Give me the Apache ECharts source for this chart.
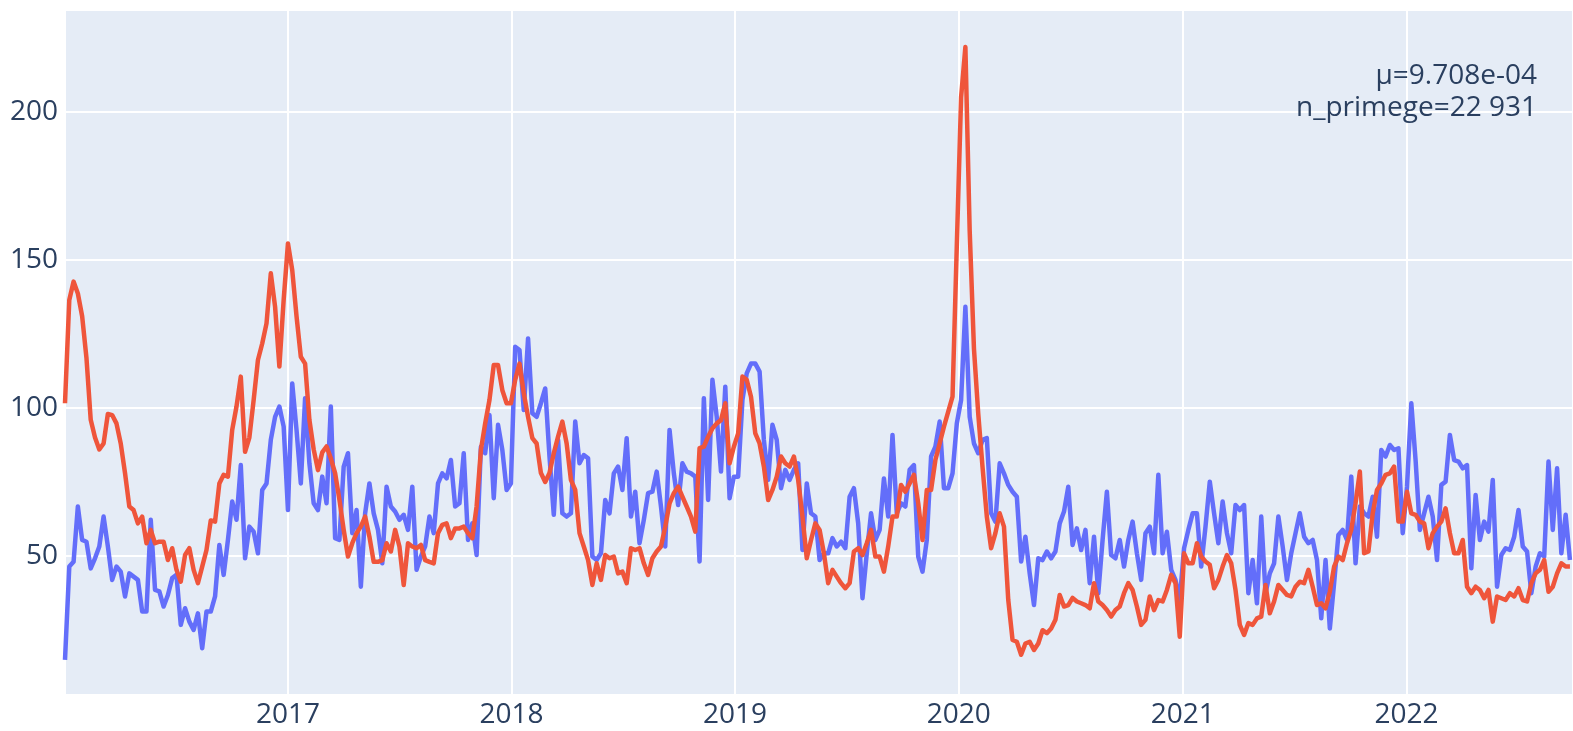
<!DOCTYPE html>
<html>
<head>
<meta charset="utf-8">
<script src="https://cdn.jsdelivr.net/npm/echarts@6/dist/echarts.min.js"></script>
<style>
    html, body { margin: 0; padding: 0; background: #fff; }
    #chart { width: 1573px; height: 731px; }
</style>
</head>
<body>
<div id="chart"></div>
<script>
// weekly series, first week starts on this sunday
const firstWeek = [2016, 0, 3];
const xRange = ['2016-01-03', '2022-09-30'];
const yRange = [3, 234.5];
const noteLines = ['μ=9.708e-04', 'n_primege=22 931'];

const blueValues = [
    14.9, 46.4, 48, 66.7, 55.4, 54.8, 45.8, 49.2, 53.2, 63.3,
    53.2, 41.9, 46.4, 44.7, 36.3, 44.1, 43, 41.9, 31.2, 31.2,
    62.2, 38.5, 38, 32.9, 36.8, 42.5, 43.6, 26.7, 32.3, 27.8,
    25, 30.6, 18.8, 31.2, 31.2, 36.3, 53.7, 43.6, 55.4, 68.4,
    62.2, 80.7, 49.2, 59.9, 58.2, 50.9, 72.3, 74.5, 89.2, 97,
    100.5, 93.7, 65.5, 108.3, 92.6, 74.5, 103.3, 81.3, 67.8, 65.5,
    76.8, 67.8, 100.5, 56, 55.4, 80.2, 84.7, 57.7, 65.5, 39.6,
    64.4, 74.5, 64.4, 58.8, 47.5, 73.4, 66.7, 65, 62.2, 63.9,
    58.8, 73.4, 45.3, 49.8, 53.2, 63.3, 57.7, 74.5, 77.9, 76.2,
    82.4, 66.7, 67.8, 84.7, 55.4, 61, 50.3, 86.9, 84.7, 97.6,
    69.5, 94.3, 85.8, 72.3, 74.5, 120.7, 119.6, 99.3, 123.5, 98.2,
    97, 101.6, 106.6, 83.6, 63.9, 89.2, 64.4, 63.3,
    64.4, 95.4, 81.3, 84.1, 83, 49.8, 48.6, 50.9, 68.9, 64.4,
    77.9, 80.2, 72.3, 89.8, 63.3, 71.7, 54.3, 62.2, 71.2, 71.7,
    78.5, 66.7, 53.2, 92.6, 77.9, 67.2, 81.3, 78.5, 77.9, 76.8,
    48.1, 103.3, 68.9, 109.5, 97, 78.5, 107.2, 69.5, 76.8, 76.8,
    102.7, 111.7, 115, 115, 112.3, 89.2, 75.7, 94.3, 89.2, 72.9,
    79.1, 75.7, 79.1, 81.3, 52, 74.5, 64.4, 63.3, 48.6,
    50.9, 50.9, 56, 53.2, 54.8, 52.6, 70, 72.9, 61, 35.7,
    50.9, 64.4, 55.4, 58.8, 76.2, 63.3, 90.9, 64.4, 67.8, 66.7,
    79.1, 80.7, 49.8, 44.7, 55.4, 83.6, 86.9, 95.4, 72.9, 72.9,
    77.9, 94.8, 102.7, 134.2, 97, 88, 84.7, 89.2, 89.8, 64.4,
    61.6, 81.3, 77.9, 74, 71.7, 70, 48.1, 56.5, 44.1, 33.4,
    49.2, 48.6, 51.5, 49.2, 51.5, 61, 65, 73.4,
    53.7, 59.3, 52, 58.8, 40.8, 56.5, 37.4, 55.4, 71.7, 50.3,
    49.2, 55.4, 46.4, 55.4, 61.6, 50.9, 41.9, 57.7, 59.9, 50.9,
    77.4, 50.9, 58.2, 45.3, 41.9, 35.1, 52.6, 58.8, 64.4, 64.4,
    46.4, 59.9, 75.1, 64.4, 54.3, 68.4, 57.7, 50.9, 67.2, 65.5,
    67.2, 37.4, 48.6, 34, 63.3, 37.4, 44.1, 47.5, 63.3, 53.2,
    41.9, 50.9, 57.7, 64.4, 56.5, 54.3, 55.4, 48.6,
    28.9, 48.6, 25.5, 40.8, 57.1, 58.8, 55.4, 76.8, 47.5, 66.7,
    64.4, 63.3, 70, 56.5, 85.8, 83.6, 87.5, 85.8, 86.4, 57.7,
    73.4, 101.6, 82.4, 58.8, 64.4, 70, 63.3, 48.6, 74, 75.1,
    90.9, 82.4, 81.9, 79.6, 80.7, 45.8, 70.6, 55.4, 61.6, 58.2,
    75.7, 39.6, 50.3, 52.6, 52, 56.5, 65.5, 53.2, 51.5, 37.4,
    46.4, 50.9, 49.8, 81.9, 58.8, 79.6, 50.9, 63.9, 48.6
];

const redValues = [
    101.6, 136.5, 142.7, 138.7, 131, 117, 96, 90, 86, 88,
    98, 97.6, 94.8, 88, 78, 66.7, 65.5, 61, 63.3, 54.3,
    58.8, 54.3, 54.8, 54.8, 48.6, 52.6, 45.3, 41.3, 50.3, 52.6,
    45.3, 40.8, 46.4, 52, 62, 61.6, 74.5, 77.4, 76.8, 92.6,
    100.5, 110.6, 85.2, 90, 102.7, 116.2, 121.8, 128.6, 145.5, 134.2,
    114, 136.5, 155.6, 146.6, 131, 117.3, 115, 96, 86, 79,
    85, 87, 83, 78, 69, 58.8, 49.8, 54.3, 57.7, 59.9,
    63.3, 56.5, 48, 48, 48.6, 54.3, 51.5, 58.8, 53.2, 40.2,
    54.3, 53.2, 52.6, 53.7, 48.6, 48, 47.5, 57.7, 60.5, 61,
    56, 59.3, 59.3, 59.9, 57.7, 56, 66.7, 85.8, 94.8, 102.7,
    114.5, 114.5, 106, 101.6, 101.6, 109.5, 115, 105, 97, 89.8,
    88, 78, 75, 78, 84.7, 90.3, 95.4, 88,
    75.7, 72.3, 57.7, 53.2, 48.6, 40.2, 47.5, 41.9, 50.3, 49.2,
    49.8, 44.1, 44.7, 40.8, 52.6, 52, 52.6, 47.5, 43.6, 49.2,
    51.5, 53.2, 59.9, 67.8, 71.2, 73.4, 70, 66.7, 63.3, 58.2,
    86.4, 86.9, 90.3, 93.1, 94.8, 95.9, 101.6, 81.3, 86.9, 91.4,
    110.6, 109.5, 103.8, 91.4, 88, 80.2, 68.9, 72.3, 76.8, 83.6,
    81.3, 80.2, 83.6, 75.7, 63.3, 49.2, 55.4, 61, 58.8,
    50.9, 40.8, 45.3, 43, 40.8, 39.1, 40.8, 51.5, 52.6, 50.3,
    54.3, 58.8, 49.8, 49.8, 44.7, 53.2, 63.3, 63.3, 74, 71.7,
    74.5, 77.4, 67.8, 55.4, 72.3, 72.3, 82.4, 88, 93.7, 98.8,
    103.8, 155, 205, 222, 160, 120, 98, 80, 63.3, 52.6,
    57.7, 64.4, 59.9, 35.1, 21.6, 21, 16.6, 20.4, 21, 18.2,
    20.4, 24.9, 23.9, 25.5, 28.4, 36.8, 32.9, 33.4,
    35.8, 34.6, 34, 33.4, 32.3, 40.8, 34.6, 33.4, 31.7, 29.5,
    31.7, 32.9, 37.4, 40.8, 38.5, 32.9, 26.7, 28.4, 36.3, 31.7,
    35.1, 34.6, 38.5, 43.6, 40.8, 22.7, 50.9, 47.5, 47.5, 54.3,
    49.8, 48.1, 47, 39.1, 41.9, 46.4, 50.3, 47.5, 38.5, 26.7,
    23.3, 27.3, 26.7, 28.9, 29.5, 40.2, 30.6, 34.6, 40.2, 38.5,
    36.8, 36.3, 39.6, 41.3, 40.8, 45.3, 39.6, 33.4,
    34, 32.3, 37.9, 46.4, 49.8, 48.6, 54.3, 58.8, 67.8, 78.5,
    50.9, 51.5, 64.4, 72.3, 74.5, 77.4, 77.9, 80.2, 61.6, 61.6,
    71.7, 64.4, 63.9, 61.6, 61, 52.6, 57.7, 59.9, 61.6, 66.1,
    57.7, 50.9, 50.9, 55.4, 39.6, 37.4, 39.6, 38.5, 35.7, 38.5,
    27.8, 36.3, 35.7, 35.1, 37.4, 36.3, 39.1, 35.1, 34.6, 40.8,
    44.1, 45.3, 48.6, 37.9, 39.6, 44.1, 47.5, 46.4, 46.4
];

const WEEK = 7 * 24 * 3600 * 1000;
const fontFamily = '"Open Sans", "Noto Sans", sans-serif';
const textColor = '#2a3f5f';

// pair each value with the date of its week
function toWeekly(values) {
    const start = Date.UTC(firstWeek[0], firstWeek[1], firstWeek[2]);
    return values.map((v, i) => [start + i * WEEK, v]);
}

// one right-aligned text element per annotation line, drawn above the grid lines
function noteGraphics() {
    return noteLines.map((line, i) => ({
        type: 'text',
        right: 36,
        top: 62 + i * 32,
        z: 100,
        style: {
            text: line,
            fill: textColor,
            font: '28px ' + fontFamily
        }
    }));
}

function initChart() {
    const chart = echarts.init(document.getElementById('chart'));
    const option = {
        useUTC: true,
        animation: false,
        grid: {
            left: 65,
            right: 0,
            top: 10,
            bottom: 36,
            show: true,
            backgroundColor: '#E5ECF6',
            borderWidth: 0
        },
        xAxis: {
            type: 'time',
            min: xRange[0],
            max: xRange[1],
            splitNumber: 6,
            axisLine: { show: false },
            axisTick: { show: false },
            axisLabel: {
                showMinLabel: false,
                showMaxLabel: false,
                color: textColor,
                fontFamily: fontFamily,
                fontSize: 28,
                margin: 6,
                formatter: '{yyyy}'
            },
            splitLine: { show: true, lineStyle: { color: '#fff', width: 2 } }
        },
        yAxis: {
            type: 'value',
            min: yRange[0],
            max: yRange[1],
            splitNumber: 5,
            minInterval: 50,
            maxInterval: 50,
            axisLine: { show: false },
            axisTick: { show: false },
            axisLabel: {
                showMinLabel: false,
                showMaxLabel: false,
                color: textColor,
                fontFamily: fontFamily,
                fontSize: 28,
                margin: 7
            },
            splitLine: { show: true, lineStyle: { color: '#fff', width: 2 } }
        },
        graphic: noteGraphics(),
        series: [
            {
                name: 'blue',
                type: 'line',
                data: toWeekly(blueValues),
                showSymbol: false,
                lineStyle: { color: '#636EFA', width: 4.5, join: 'round' },
                itemStyle: { color: '#636EFA' },
                z: 2
            },
            {
                name: 'red',
                type: 'line',
                data: toWeekly(redValues),
                showSymbol: false,
                lineStyle: { color: '#EF553B', width: 4.5, join: 'round' },
                itemStyle: { color: '#EF553B' },
                z: 3
            }
        ]
    };
    chart.setOption(option);
    return chart;
}

document.addEventListener('DOMContentLoaded', function () {
    const chart = initChart();
    window.addEventListener('resize', function () {
        chart.resize();
    });
});
</script>
</body>
</html>
